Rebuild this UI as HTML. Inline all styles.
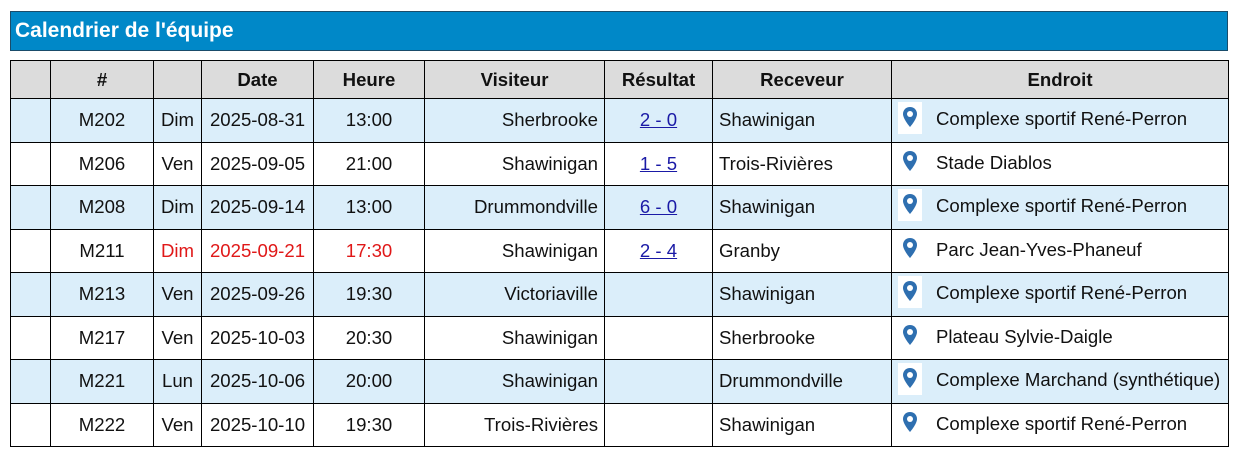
<!DOCTYPE html>
<html><head><style>
body{margin:0;background:#fff;font-family:"Liberation Sans",sans-serif;}
.t{position:absolute;left:10px;top:11px;width:1212px;height:38px;background:#0088c8;border:1px solid #1a4c6a;color:#fff;font-weight:bold;font-size:21px;line-height:38px;padding-left:4px;box-sizing:content-box}
table{position:absolute;left:10px;top:60px;border-collapse:collapse;font-size:18.6px;color:#111;table-layout:fixed;width:1218px}
td,th{border:1px solid #000;padding:0 6px;white-space:nowrap;overflow:hidden}
th{background:#dcdcdc;height:37px;font-weight:bold}
td{height:42.5px}
tr.a td{background:#dbeefa}
.c{text-align:center}.r{text-align:right}
a{color:#1a1aa6;text-decoration:underline}
.red{color:#e01818}
.pin{display:inline-block;width:24px;height:32px;background:#fff;vertical-align:middle;margin-right:14px;position:relative;top:-2px}
.pin svg{position:absolute;left:4px;top:4px}
tr.b .pin{background:none}
</style></head><body>
<div class="t">Calendrier de l'équipe</div>
<table>
<colgroup><col style="width:40px"><col style="width:103px"><col style="width:48px"><col style="width:112px"><col style="width:111px"><col style="width:180px"><col style="width:108px"><col style="width:179px"><col style="width:337px"></colgroup>
<tr><th></th><th>#</th><th></th><th>Date</th><th>Heure</th><th>Visiteur</th><th>Résultat</th><th>Receveur</th><th>Endroit</th></tr>
<tr class="a"><td></td><td class="c">M202</td><td class="c">Dim</td><td class="c">2025-08-31</td><td class="c">13:00</td><td class="r">Sherbrooke</td><td class="c"><a>2 - 0</a></td><td>Shawinigan</td><td><span class="pin"><svg width="16" height="22" viewBox="0 0 16 22"><path d="M8 1C4 1 1 4 1 8c0 5 7 13 7 13s7-8 7-13c0-4-3-7-7-7z" fill="#2e6fb0"/><circle cx="8" cy="8" r="3" fill="#fff"/></svg></span>Complexe sportif René-Perron</td></tr>
<tr class="b"><td></td><td class="c">M206</td><td class="c">Ven</td><td class="c">2025-09-05</td><td class="c">21:00</td><td class="r">Shawinigan</td><td class="c"><a>1 - 5</a></td><td>Trois-Rivières</td><td><span class="pin"><svg width="16" height="22" viewBox="0 0 16 22"><path d="M8 1C4 1 1 4 1 8c0 5 7 13 7 13s7-8 7-13c0-4-3-7-7-7z" fill="#2e6fb0"/><circle cx="8" cy="8" r="3" fill="#fff"/></svg></span>Stade Diablos</td></tr>
<tr class="a"><td></td><td class="c">M208</td><td class="c">Dim</td><td class="c">2025-09-14</td><td class="c">13:00</td><td class="r">Drummondville</td><td class="c"><a>6 - 0</a></td><td>Shawinigan</td><td><span class="pin"><svg width="16" height="22" viewBox="0 0 16 22"><path d="M8 1C4 1 1 4 1 8c0 5 7 13 7 13s7-8 7-13c0-4-3-7-7-7z" fill="#2e6fb0"/><circle cx="8" cy="8" r="3" fill="#fff"/></svg></span>Complexe sportif René-Perron</td></tr>
<tr class="b"><td></td><td class="c">M211</td><td class="c red">Dim</td><td class="c red">2025-09-21</td><td class="c red">17:30</td><td class="r">Shawinigan</td><td class="c"><a>2 - 4</a></td><td>Granby</td><td><span class="pin"><svg width="16" height="22" viewBox="0 0 16 22"><path d="M8 1C4 1 1 4 1 8c0 5 7 13 7 13s7-8 7-13c0-4-3-7-7-7z" fill="#2e6fb0"/><circle cx="8" cy="8" r="3" fill="#fff"/></svg></span>Parc Jean-Yves-Phaneuf</td></tr>
<tr class="a"><td></td><td class="c">M213</td><td class="c">Ven</td><td class="c">2025-09-26</td><td class="c">19:30</td><td class="r">Victoriaville</td><td class="c"></td><td>Shawinigan</td><td><span class="pin"><svg width="16" height="22" viewBox="0 0 16 22"><path d="M8 1C4 1 1 4 1 8c0 5 7 13 7 13s7-8 7-13c0-4-3-7-7-7z" fill="#2e6fb0"/><circle cx="8" cy="8" r="3" fill="#fff"/></svg></span>Complexe sportif René-Perron</td></tr>
<tr class="b"><td></td><td class="c">M217</td><td class="c">Ven</td><td class="c">2025-10-03</td><td class="c">20:30</td><td class="r">Shawinigan</td><td class="c"></td><td>Sherbrooke</td><td><span class="pin"><svg width="16" height="22" viewBox="0 0 16 22"><path d="M8 1C4 1 1 4 1 8c0 5 7 13 7 13s7-8 7-13c0-4-3-7-7-7z" fill="#2e6fb0"/><circle cx="8" cy="8" r="3" fill="#fff"/></svg></span>Plateau Sylvie-Daigle</td></tr>
<tr class="a"><td></td><td class="c">M221</td><td class="c">Lun</td><td class="c">2025-10-06</td><td class="c">20:00</td><td class="r">Shawinigan</td><td class="c"></td><td>Drummondville</td><td><span class="pin"><svg width="16" height="22" viewBox="0 0 16 22"><path d="M8 1C4 1 1 4 1 8c0 5 7 13 7 13s7-8 7-13c0-4-3-7-7-7z" fill="#2e6fb0"/><circle cx="8" cy="8" r="3" fill="#fff"/></svg></span>Complexe Marchand (synthétique)</td></tr>
<tr class="b"><td></td><td class="c">M222</td><td class="c">Ven</td><td class="c">2025-10-10</td><td class="c">19:30</td><td class="r">Trois-Rivières</td><td class="c"></td><td>Shawinigan</td><td><span class="pin"><svg width="16" height="22" viewBox="0 0 16 22"><path d="M8 1C4 1 1 4 1 8c0 5 7 13 7 13s7-8 7-13c0-4-3-7-7-7z" fill="#2e6fb0"/><circle cx="8" cy="8" r="3" fill="#fff"/></svg></span>Complexe sportif René-Perron</td></tr>
</table>
</body></html>
